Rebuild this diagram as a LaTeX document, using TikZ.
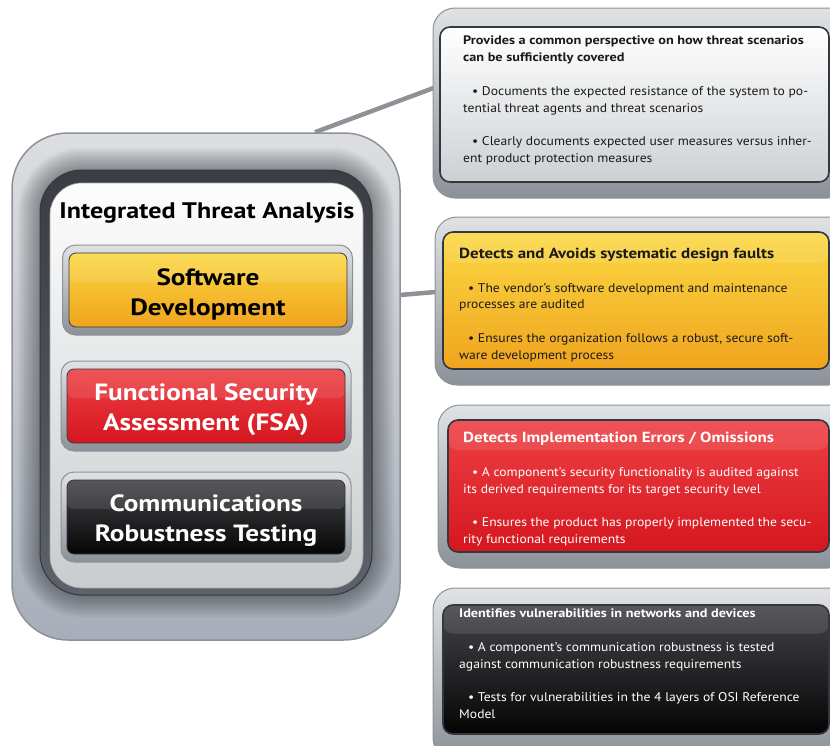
\documentclass[tikz,border=0pt]{standalone}
\usepackage{fontspec}
\setmainfont{PT Sans}[FakeStretch=1.08, BoldFeatures={FakeStretch=1.16}]
\usetikzlibrary{backgrounds,calc}

\definecolor{rimline}{HTML}{8E9298}
\definecolor{rimtop}{HTML}{E0E2E4}
\definecolor{rimbot}{HTML}{8C9199}
\definecolor{frametop}{HTML}{DCDEE1}
\definecolor{framebot}{HTML}{A7AEB9}
\definecolor{ringtop}{HTML}{3A3D44}
\definecolor{ringbot}{HTML}{5D6169}
\definecolor{paneltop}{HTML}{FDFDFD}
\definecolor{panelbot}{HTML}{C9CCCE}
\definecolor{darkline}{HTML}{34373D}
\definecolor{linkgray}{HTML}{8E9196}
\definecolor{inktext}{HTML}{1A1A1A}
\definecolor{ylwtop}{HTML}{FBD844}
\definecolor{ylwbot}{HTML}{F0A41D}
\definecolor{redtop}{HTML}{EE4044}
\definecolor{redbot}{HTML}{D5161F}
\definecolor{blktop}{HTML}{45454A}
\definecolor{blkbot}{HTML}{050505}
\definecolor{graytop}{HTML}{FFFFFF}
\definecolor{graybot}{HTML}{CDD0D3}

\newcommand{\bodysize}{\fontsize{12.6}{16.8}\selectfont}
\newcommand{\gap}{\\[16.8pt]}
\newcommand{\itemmark}{\hspace*{9pt}•\ }

\begin{document}
\begin{tikzpicture}[x=1pt,y=-1pt,
  rim/.style={draw=rimline, line width=1pt, top color=rimtop, bottom color=rimbot},
  gloss/.style={path picture={\fill[white,opacity=0.1]
      (path picture bounding box.north west) rectangle ([yshift=#1]path picture bounding box.east);}},
  btnrim/.style={rim, rounded corners=13pt, minimum width=290pt, minimum height=90pt},
  btn/.style={draw=darkline, line width=0.8pt, rounded corners=7pt, minimum width=278pt,
      minimum height=74pt, inner sep=0pt},
  btntext/.style={align=center, inner sep=0pt, yshift=-4pt,
      font=\fontsize{23.5}{30}\selectfont\bfseries},
  boxrim/.style={rim, rounded corners=22pt},
  boxin/.style={draw=darkline, line width=1.6pt, rounded corners=10pt},
  txt/.style={anchor=north west, align=left, inner sep=0pt, font=\bodysize},
  link/.style={draw=linkgray, line width=4.5pt},
]
\clip (0,0) rectangle (830,745);

% ---------- left frame ----------
\node (frame) [draw=rimline, line width=1.5pt, rounded corners=56pt,
      top color=frametop, bottom color=framebot,
      minimum width=388pt, minimum height=507pt] at (206,386.5) {};
% soft darkening towards the inner ring
\foreach \k in {22,20,...,2}
  \fill[black, opacity=0.035, rounded corners=42pt+\k pt]
    (206-166-\k, 382.5-212.5-\k) rectangle (206+166+\k, 382.5+212.5+\k);
\node (ring) [draw=darkline, line width=1pt, rounded corners=42pt,
      top color=ringtop, bottom color=ringbot,
      minimum width=332pt, minimum height=425pt] at (206,382.5) {};
\node (panel) [draw=gray!70, line width=0.6pt, rounded corners=32pt,
      top color=paneltop, bottom color=panelbot,
      minimum width=313pt, minimum height=405pt] at (206.5,385.5) {};

\node (title) [font=\fontsize{22.5}{24}\selectfont\bfseries, text=black, inner sep=0pt]
  at (207,213) {Integrated Threat Analysis};

% ---------- buttons ----------
\node (sdrim)  [btnrim] at (207.5,290) {};
\node (sd)     [btn, top color=ylwtop, bottom color=ylwbot, gloss=8pt] at (208,290) {};
\node (sdlbl)  [btntext, text=black] at (sd.center) {Software\\Development};

\node (fsarim) [btnrim] at (206,406) {};
\node (fsa)    [btn, top color=redtop, bottom color=redbot, gloss=8pt] at (206,406) {};
\node (fsalbl) [btntext, text=white] at (fsa.center) {Functional Security\\Assessment (FSA)};

\node (crtrim) [btnrim] at (206,517) {};
\node (crt)    [btn, top color=blktop, bottom color=blkbot, gloss=8pt] at (206,517) {};
\node (crtlbl) [btntext, text=white] at (crt.center) {Communications\\Robustness Testing};

% ---------- detail boxes ----------
\node (b1rim) [boxrim, minimum width=417pt, minimum height=190pt] at (641.5,103) {};
\node (b1) [boxin, top color=graytop, bottom color=graybot, gloss=30pt,
            minimum width=389pt, minimum height=155pt] at (634.5,104.5) {};
\node (b1txt) [txt, text=inktext] at (463,36)
  {{\fontsize{12.3}{16.8}\selectfont\bfseries Provides a common perspective on how threat scenarios}\\
   {\fontsize{12.3}{16.8}\selectfont\bfseries can be sufficiently covered}\gap
   \itemmark Documents the expected resistance of the system to po-\\
   tential threat agents and threat scenarios\gap
   \itemmark Clearly documents expected user measures versus inher-\\
   ent product protection measures};

\node (b2rim) [boxrim, minimum width=415pt, minimum height=168pt] at (642.5,301) {};
\node (b2) [boxin, top color=ylwtop, bottom color=ylwbot, gloss=38pt,
            minimum width=386pt, minimum height=137pt] at (636,300.5) {};
\node (b2txt) [txt, text=inktext] at (459,248)
  {{\fontsize{14.6}{16.8}\selectfont\bfseries Detects and Avoids systematic design faults}\gap
   \itemmark The vendor’s software development and maintenance\\
   processes are audited\gap
   \itemmark Ensures the organization follows a robust, secure soft-\\
   ware development process};

\node (b3rim) [boxrim, minimum width=412pt, minimum height=163pt] at (644,486.5) {};
\node (b3) [boxin, top color=redtop, bottom color=redbot, gloss=36pt,
            minimum width=381pt, minimum height=132pt] at (638.5,486) {};
\node (b3txt) [txt, text=white] at (463,432)
  {{\fontsize{14.6}{16.8}\selectfont\bfseries Detects Implementation Errors / Omissions}\gap
   \itemmark A component’s security functionality is audited against\\
   its derived requirements for its target security level\gap
   \itemmark Ensures the product has properly implemented the secu-\\
   rity functional requirements};

\node (b4rim) [boxrim, minimum width=417pt, minimum height=172pt] at (641.5,674) {};
\node (b4) [boxin, top color=blktop, bottom color=blkbot, gloss=36pt,
            minimum width=386pt, minimum height=129pt] at (636,669.5) {};
\node (b4txt) [txt, text=white] at (459,609)
  {{\fontsize{12.3}{16.8}\selectfont\bfseries Identifies vulnerabilities in networks and devices}\gap
   \itemmark A component’s communication robustness is tested\\
   against communication robustness requirements\gap
   \itemmark Tests for vulnerabilities in the 4 layers of OSI Reference\\
   Model};

% ---------- connectors ----------
\coordinate (frametap) at ($(frame.north)+(109,0)$);
\coordinate (b1tap)    at ($(b1rim.west)+(1,-15)$);
\coordinate (sdtap)    at ($(sdrim.east)+(-1,9)$);
\coordinate (b2tap)    at ($(b2rim.west)+(1,-9)$);
\begin{scope}[on background layer]
  \draw[link] (frametap) -- (b1tap);
  \draw[link] (sdtap) -- (b2tap);
\end{scope}
\end{tikzpicture}
\end{document}
